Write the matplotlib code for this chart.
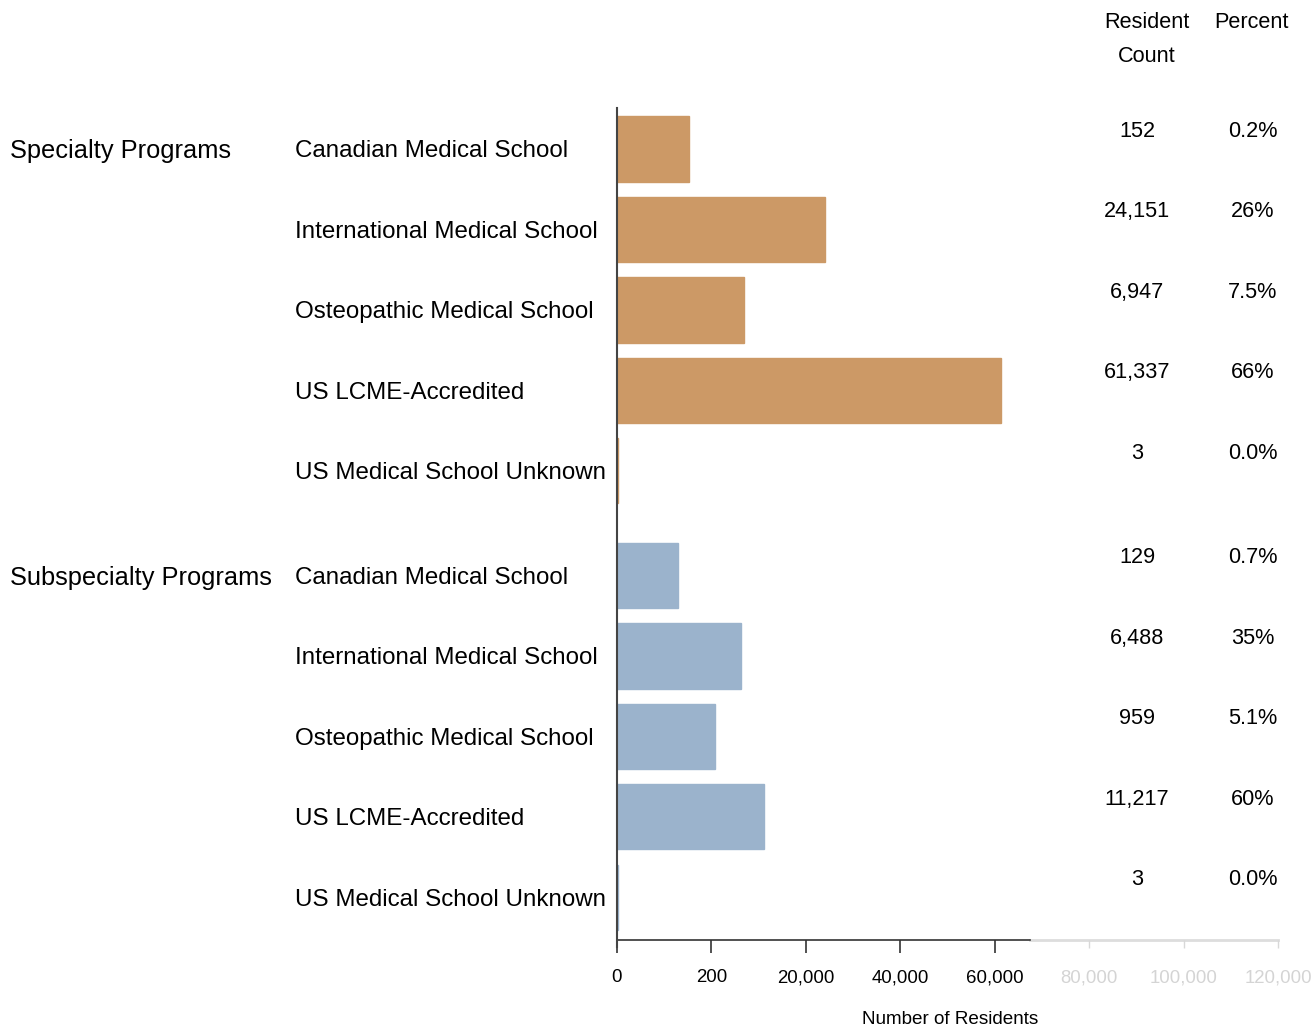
import numpy as np
import matplotlib
matplotlib.use("Agg")
import matplotlib.pyplot as plt
import matplotlib.transforms as mtransforms

plt.rcParams['font.family'] = ['Liberation Sans', 'DejaVu Sans']

groups = ["Specialty Programs", "Subspecialty Programs"]
schools = ["Canadian Medical School", "International Medical School",
           "Osteopathic Medical School", "US LCME-Accredited",
           "US Medical School Unknown"]
specialty_counts = [152, 24151, 6947, 61337, 3]
specialty_pct = ["0.2%", "26%", "7.5%", "66%", "0.0%"]
subspecialty_counts = [129, 6488, 959, 11217, 3]
subspecialty_pct = ["0.7%", "35%", "5.1%", "60%", "0.0%"]

tick_vals = [0, 200, 20000, 40000, 60000, 80000, 100000, 120000]
tick_labels = ["0", "200", "20,000", "40,000", "60,000", "80,000", "100,000", "120,000"]
tick_pos = np.arange(len(tick_vals))

def fwd(x):
    return np.interp(x, tick_vals, tick_pos)

def inv(u):
    return np.interp(u, tick_pos, tick_vals)

W, H = 1313, 1029
fig = plt.figure(figsize=(W / 100, H / 100), dpi=100)
ax = fig.add_axes([617 / W, 89 / H, 661 / W, 832 / H])
ax.set_xscale("function", functions=(fwd, inv))

orange = "#cc9966"
blue = "#9bb3cc"
y_spec = np.arange(5)
y_sub = np.arange(5) + 5.3
ax.barh(y_spec, specialty_counts, height=0.81, color=orange, edgecolor=orange, linewidth=1.0, zorder=3)
ax.barh(y_sub, subspecialty_counts, height=0.81, color=blue, edgecolor=blue, linewidth=1.0, zorder=3)

ax.set_xlim(0, 120000)
ax.set_ylim(9.83, -0.51)
ax.set_yticks([])
ax.set_xticks(tick_vals)
ax.set_xticklabels(tick_labels, fontsize=13.4)
ax.tick_params(axis="x", length=9, width=1.2, color="#333333", pad=12)
for i, (t, lab) in enumerate(zip(ax.xaxis.get_major_ticks(), ax.get_xticklabels())):
    if tick_vals[i] > 60000:
        t.tick1line.set_markeredgecolor("#d8d8d8")
        t.tick1line.set_markeredgewidth(1)
        t.tick1line.set_markersize(6)
        lab.set_color("#d4d4d4")

for s in ["top", "right", "bottom"]:
    ax.spines[s].set_visible(False)
ax.spines["left"].set_color("#444444")
ax.spines["left"].set_linewidth(1.5)
ax.spines["left"].set_bounds(-0.51, 9.92)
ax.spines["left"].set_zorder(4)

axis_end = max(specialty_counts) * 1.1
ax.plot([axis_end, 120000], [9.83, 9.83], color="#dddddd", lw=2, clip_on=False, zorder=1)
ax.plot([0, axis_end], [9.83, 9.83], color="#333333", lw=1.2, clip_on=False, zorder=4)

ax.set_xlabel("Number of Residents", fontsize=13.6)
ax.xaxis.set_label_coords((950 - 617) / 661, -(1019 - 940) / 832)
ax.xaxis.label.set_va("center")

tr = mtransforms.blended_transform_factory(fig.transFigure, ax.transData)
for ys, counts, pcts, grp in [(y_spec, specialty_counts, specialty_pct, groups[0]),
                              (y_sub, subspecialty_counts, subspecialty_pct, groups[1])]:
    ax.text(10 / W, ys[0] + 0.03, grp, transform=tr, fontsize=18.3, va="center", ha="left")
    for y, name, c, p in zip(ys, schools, counts, pcts):
        ax.text(295 / W, y + 0.03, name, transform=tr, fontsize=17.4, va="center", ha="left")
        ax.text(1137 / W, y - 0.22, f"{c:,}", transform=tr, fontsize=15.6, va="center", ha="center")
        ax.text(1253 / W, y - 0.22, p, transform=tr, fontsize=15.6, va="center", ha="center")

fig.text(1147 / W, 1 - 23 / H, "Resident", fontsize=15.6, ha="center", va="center")
fig.text(1147 / W, 1 - 56 / H, "Count", fontsize=15.6, ha="center", va="center")
fig.text(1251 / W, 1 - 23 / H, "Percent", fontsize=15.6, ha="center", va="center")

fig.savefig("out.png", dpi=100)
